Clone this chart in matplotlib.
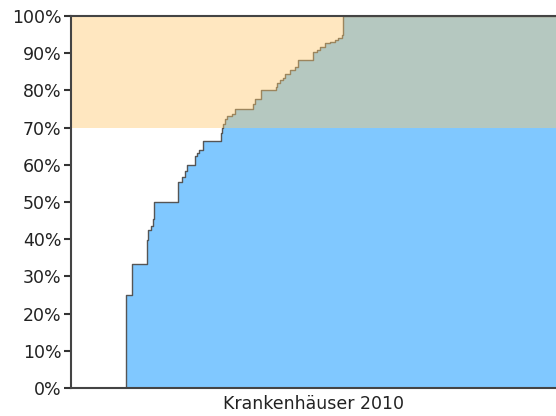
import matplotlib
matplotlib.use("Agg")
import matplotlib.pyplot as plt
from matplotlib.ticker import PercentFormatter

# cumulative share of hospitals (step curve), x = position along the axis (0..100)
step_x = [0.0, 11.3, 12.5, 12.6, 15.6, 15.9, 16.5, 16.9, 17.2, 22.1, 22.8, 23.5,
          23.9, 25.6, 26.0, 26.4, 27.3, 30.9, 31.1, 31.4, 31.8, 32.2, 33.1, 33.8,
          37.6, 37.9, 39.1, 42.3, 42.5, 43.1, 43.7, 44.1, 45.2, 46.2, 46.8, 49.9,
          50.7, 51.3, 52.4, 53.4, 54.4, 55.1, 55.8, 56.1, 100.0]
step_y = [0, 25, 28.5, 33.3, 39.8, 42.5, 43.5, 45.4, 50, 55.5, 56.8, 58.2,
          60, 62.4, 63.3, 64, 66.5, 68.5, 69.9, 71, 72.3, 73.2, 73.6, 75,
          76.3, 77.6, 80, 81, 81.9, 82.8, 83.3, 84.5, 85.5, 86.3, 88.2, 90.4,
          90.9, 91.8, 92.7, 93.1, 93.5, 94, 94.9, 100, 100]
band_low, band_high = 70, 100
xlabel = "Krankenhäuser 2010"

fig = plt.figure(figsize=(5.56, 4.16), dpi=100)
ax = fig.add_axes([71 / 556, 1 - 388 / 416, 1 - 71 / 556, (388 - 16) / 416])

ax.fill_between(step_x, step_y, step="post", color="#80c8ff", lw=0, zorder=1)
ax.step(step_x, step_y, where="post", color="#555555", lw=1.0, zorder=2)
ax.axhspan(band_low, band_high, color="#ffc869", alpha=0.42, lw=0, zorder=3)

ax.set_xlim(0, 100)
ax.set_ylim(0, 100)
ax.set_yticks(range(0, 101, 10))
ax.yaxis.set_major_formatter(PercentFormatter(decimals=0))
ax.set_xticks([])
ax.tick_params(axis="y", labelsize=12.5, length=5, width=1.5, color="#333333",
               labelcolor="#222222", pad=2)
for side in ("left", "bottom", "top"):
    ax.spines[side].set_color("#444444")
    ax.spines[side].set_linewidth(1.5)
    ax.spines[side].set_zorder(5)
ax.spines["right"].set_visible(False)
ax.set_xlabel(xlabel, fontsize=12.5, color="#222222", labelpad=5)

fig.savefig("out.png", dpi=100)
